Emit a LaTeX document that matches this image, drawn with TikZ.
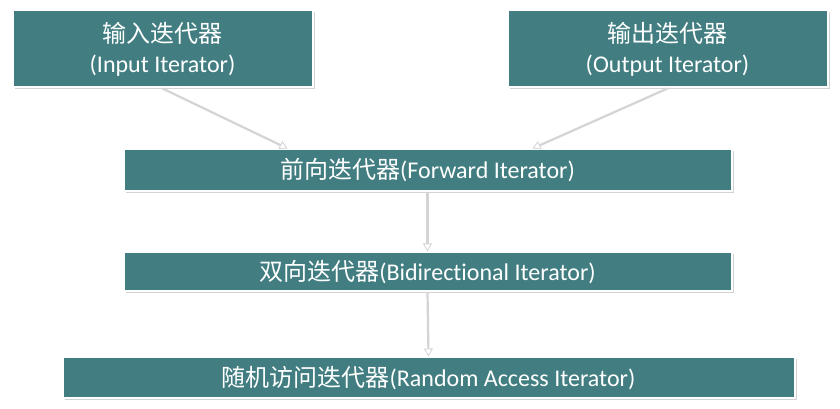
\documentclass[tikz,border=0pt]{standalone}
\usepackage{fontspec}
\setmainfont{Carlito}[Ligatures=NoCommon]
\newfontfamily\cjk{Noto Sans CJK SC}
\usepackage{tikz}
\usetikzlibrary{arrows.meta,shadows}
\definecolor{tealbox}{RGB}{66,126,129}
\definecolor{linkgray}{RGB}{212,212,212}

\tikzset{
  itbox/.style={draw=white, line width=2pt, fill=tealbox, text=white,
    drop shadow={opacity=0.35, shadow xshift=2pt, shadow yshift=-2pt},
    inner sep=0pt, align=center, font=\fontsize{24}{30}\selectfont},
  link/.style={draw=linkgray, line width=2.2pt,
    -{Triangle[width=9pt,length=8pt,fill=white,line width=0.8pt]}}
}

\begin{document}
\begin{tikzpicture}[x=1pt,y=1pt]
\useasboundingbox (0,0) rectangle (840,409);
%%%%% the five iterator categories
\node[itbox, minimum width=300pt, minimum height=77pt] (in) at (162.5,360) {{\cjk 输入迭代器}\\(Input Iterator)};
\node[itbox, minimum width=320pt, minimum height=77pt] (out) at (667.5,360) {{\cjk 输出迭代器}\\(Output Iterator)};
\node[itbox, minimum width=608pt, minimum height=42pt] (fwd) at (427.5,238.5) {{\cjk 前向迭代器}(Forward Iterator)};
\node[itbox, minimum width=608pt, minimum height=39pt] (bidi) at (427.5,137) {{\cjk 双向迭代器}(Bidirectional Iterator)};
\node[itbox, minimum width=732pt, minimum height=41pt] (rand) at (428.5,31) {{\cjk 随机访问迭代器}(Random Access Iterator)};
%%%%% refinement arrows
\draw[link] (in.south) -- ([xshift=-140pt]fwd.north);
\draw[link] (out.south) -- ([xshift=105pt]fwd.north);
\draw[link] (fwd.south) -- (bidi.north);
\draw[link] (bidi.south) -- (rand.north);
\end{tikzpicture}
\end{document}
